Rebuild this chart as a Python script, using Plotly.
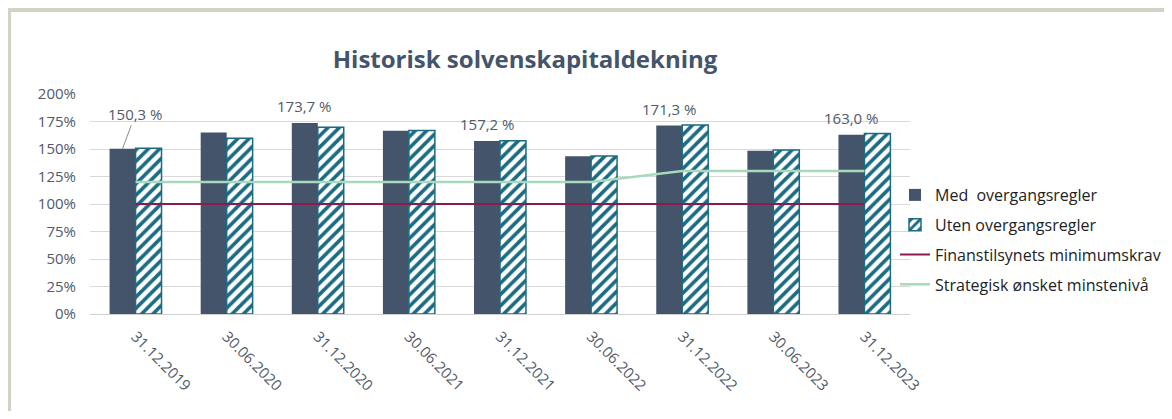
import plotly.graph_objects as go

categories = ["31.12.2019", "30.06.2020", "31.12.2020", "30.06.2021", "31.12.2021",
              "30.06.2022", "31.12.2022", "30.06.2023", "31.12.2023"]
med_overgang = [150.3, 165.0, 173.7, 166.5, 157.2, 143.4, 171.3, 148.5, 163.0]
uten_overgang = [150.6, 159.8, 169.8, 166.8, 157.6, 143.7, 171.8, 149.0, 164.0]
minimumskrav = [100, 100, 100, 100, 100, 100, 100, 100, 100]
minsteniva = [120, 120, 120, 120, 120, 120, 130, 130, 130]
labelled_idx = [0, 2, 4, 6, 8]
y_ticks = [0, 25, 50, 75, 100, 125, 150, 175, 200]

DARK = "#44546A"
TEAL = "#1B6B82"
MAROON = "#8B1A4E"
GREEN = "#A6DABB"
TXT = "#4F5A6B"
FRAME = "#D4D2C6"
FONT = "Open Sans"

fig = go.Figure()
fig.add_trace(go.Bar(
    x=categories, y=med_overgang, name="Med  overgangsregler",
    marker=dict(color=DARK, line=dict(width=0)), legendgroup="a"))
fig.add_trace(go.Bar(
    x=categories, y=uten_overgang, name="Uten overgangsregler",
    marker=dict(color="white", line=dict(color=TEAL, width=1.5),
                pattern=dict(shape="/", fgcolor=TEAL, bgcolor="white",
                             size=8, solidity=0.45, fillmode="replace",
                             fgopacity=1)),
    legendgroup="b"))
fig.add_trace(go.Scatter(
    x=categories, y=minimumskrav, name="Finanstilsynets minimumskrav",
    mode="lines", line=dict(color=MAROON, width=2), legendgroup="c"))
fig.add_trace(go.Scatter(
    x=categories, y=minsteniva, name="Strategisk ønsket minstenivå",
    mode="lines", line=dict(color=GREEN, width=2.5), legendgroup="d"))

annotations = []
for i in labelled_idx:
    v = med_overgang[i]
    txt = f"{v:.1f}".replace(".", ",") + " %"
    if i == 0:
        annotations.append(dict(
            x=categories[i], y=v, xref="x", yref="y", xshift=-13,
            text=txt, showarrow=True, arrowhead=0, arrowwidth=1,
            arrowcolor="#8C8C8C", ax=13, ay=-35,
            font=dict(family=FONT, size=15, color=TXT)))
    else:
        annotations.append(dict(
            x=categories[i], y=v, xref="x", yref="y", xshift=-13,
            yanchor="bottom", yshift=5, text=txt, showarrow=False,
            font=dict(family=FONT, size=15, color=TXT)))

# page has an 8px body margin; figure coordinates = page coordinates - 8
OFF = 8
W, H = 1172 - 2 * OFF, 419 - 2 * OFF
L, T = 90 - OFF, 94 - OFF
R = W - (910 - OFF)
B = H - (314 - OFF)
pw, ph = W - L - R, H - T - B

def px_x(p):
    return (p - OFF - L) / pw

def px_y(p):
    return (H - B - (p - OFF)) / ph

fig.update_layout(
    width=W, height=H,
    margin=dict(l=L, r=R, t=T, b=B, autoexpand=False),
    paper_bgcolor="white", plot_bgcolor="white",
    barmode="group", bargap=0.43, bargroupgap=0,
    title=dict(text="<b>Historisk solvenskapitaldekning</b>",
               x=px_x(525), xref="paper", xanchor="center",
               y=1 - (60 - OFF) / H, yref="container", yanchor="middle",
               font=dict(family=FONT, size=24, color=DARK)),
    font=dict(family=FONT, color=TXT),
    xaxis=dict(type="category", tickangle=45, automargin=False,
               tickfont=dict(family=FONT, size=15, color=TXT),
               showgrid=False, showline=True, linecolor="#D0D0D0", linewidth=1,
               ticks="", ticklabelstandoff=7),
    yaxis=dict(range=[0, 200], tickvals=y_ticks, automargin=False,
               ticktext=[f"{t}%" for t in y_ticks],
               tickfont=dict(family=FONT, size=15, color=TXT),
               showgrid=True, gridcolor="#D9D9D9", gridwidth=1,
               zeroline=False, ticks="", ticklabelstandoff=13),
    legend=dict(x=px_x(895), xanchor="left", y=px_y(178), yanchor="top",
                font=dict(family=FONT, size=16, color="#222222"),
                bgcolor="rgba(0,0,0,0)", tracegroupgap=6,
                traceorder="grouped"),
    annotations=annotations,
    shapes=[
        dict(type="line", xref="paper", yref="paper",
             x0=px_x(6), x1=px_x(1180), y0=px_y(9.5), y1=px_y(9.5),
             line=dict(color=FRAME, width=5), layer="below"),
        dict(type="line", xref="paper", yref="paper",
             x0=px_x(8.5), x1=px_x(8.5), y0=px_y(7), y1=px_y(440),
             line=dict(color=FRAME, width=5), layer="below"),
    ],
)

fig.write_html("out.html")
